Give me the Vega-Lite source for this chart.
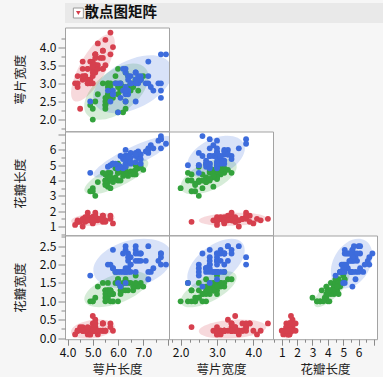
{
"$schema":"https://vega.github.io/schema/vega-lite/v6.json",
"background":"#f6f6f6",
"padding":{"left":13,"top":3,"right":0,"bottom":0},
"data":{"values":[
{"sl":5.1,"sw":3.5,"pl":1.4,"pw":0.2,"species":"setosa"},
{"sl":4.9,"sw":3.0,"pl":1.4,"pw":0.2,"species":"setosa"},
{"sl":4.7,"sw":3.2,"pl":1.3,"pw":0.2,"species":"setosa"},
{"sl":4.6,"sw":3.1,"pl":1.5,"pw":0.2,"species":"setosa"},
{"sl":5.0,"sw":3.6,"pl":1.4,"pw":0.2,"species":"setosa"},
{"sl":5.4,"sw":3.9,"pl":1.7,"pw":0.4,"species":"setosa"},
{"sl":4.6,"sw":3.4,"pl":1.4,"pw":0.3,"species":"setosa"},
{"sl":5.0,"sw":3.4,"pl":1.5,"pw":0.2,"species":"setosa"},
{"sl":4.4,"sw":2.9,"pl":1.4,"pw":0.2,"species":"setosa"},
{"sl":4.9,"sw":3.1,"pl":1.5,"pw":0.1,"species":"setosa"},
{"sl":5.4,"sw":3.7,"pl":1.5,"pw":0.2,"species":"setosa"},
{"sl":4.8,"sw":3.4,"pl":1.6,"pw":0.2,"species":"setosa"},
{"sl":4.8,"sw":3.0,"pl":1.4,"pw":0.1,"species":"setosa"},
{"sl":4.3,"sw":3.0,"pl":1.1,"pw":0.1,"species":"setosa"},
{"sl":5.8,"sw":4.0,"pl":1.2,"pw":0.2,"species":"setosa"},
{"sl":5.7,"sw":4.4,"pl":1.5,"pw":0.4,"species":"setosa"},
{"sl":5.4,"sw":3.9,"pl":1.3,"pw":0.4,"species":"setosa"},
{"sl":5.1,"sw":3.5,"pl":1.4,"pw":0.3,"species":"setosa"},
{"sl":5.7,"sw":3.8,"pl":1.7,"pw":0.3,"species":"setosa"},
{"sl":5.1,"sw":3.8,"pl":1.5,"pw":0.3,"species":"setosa"},
{"sl":5.4,"sw":3.4,"pl":1.7,"pw":0.2,"species":"setosa"},
{"sl":5.1,"sw":3.7,"pl":1.5,"pw":0.4,"species":"setosa"},
{"sl":4.6,"sw":3.6,"pl":1.0,"pw":0.2,"species":"setosa"},
{"sl":5.1,"sw":3.3,"pl":1.7,"pw":0.5,"species":"setosa"},
{"sl":4.8,"sw":3.4,"pl":1.9,"pw":0.2,"species":"setosa"},
{"sl":5.0,"sw":3.0,"pl":1.6,"pw":0.2,"species":"setosa"},
{"sl":5.0,"sw":3.4,"pl":1.6,"pw":0.4,"species":"setosa"},
{"sl":5.2,"sw":3.5,"pl":1.5,"pw":0.2,"species":"setosa"},
{"sl":5.2,"sw":3.4,"pl":1.4,"pw":0.2,"species":"setosa"},
{"sl":4.7,"sw":3.2,"pl":1.6,"pw":0.2,"species":"setosa"},
{"sl":4.8,"sw":3.1,"pl":1.6,"pw":0.2,"species":"setosa"},
{"sl":5.4,"sw":3.4,"pl":1.5,"pw":0.4,"species":"setosa"},
{"sl":5.2,"sw":4.1,"pl":1.5,"pw":0.1,"species":"setosa"},
{"sl":5.5,"sw":4.2,"pl":1.4,"pw":0.2,"species":"setosa"},
{"sl":4.9,"sw":3.1,"pl":1.5,"pw":0.2,"species":"setosa"},
{"sl":5.0,"sw":3.2,"pl":1.2,"pw":0.2,"species":"setosa"},
{"sl":5.5,"sw":3.5,"pl":1.3,"pw":0.2,"species":"setosa"},
{"sl":4.9,"sw":3.6,"pl":1.4,"pw":0.1,"species":"setosa"},
{"sl":4.4,"sw":3.0,"pl":1.3,"pw":0.2,"species":"setosa"},
{"sl":5.1,"sw":3.4,"pl":1.5,"pw":0.2,"species":"setosa"},
{"sl":5.0,"sw":3.5,"pl":1.3,"pw":0.3,"species":"setosa"},
{"sl":4.5,"sw":2.3,"pl":1.3,"pw":0.3,"species":"setosa"},
{"sl":4.4,"sw":3.2,"pl":1.3,"pw":0.2,"species":"setosa"},
{"sl":5.0,"sw":3.5,"pl":1.6,"pw":0.6,"species":"setosa"},
{"sl":5.1,"sw":3.8,"pl":1.9,"pw":0.4,"species":"setosa"},
{"sl":4.8,"sw":3.0,"pl":1.4,"pw":0.3,"species":"setosa"},
{"sl":5.1,"sw":3.8,"pl":1.6,"pw":0.2,"species":"setosa"},
{"sl":4.6,"sw":3.2,"pl":1.4,"pw":0.2,"species":"setosa"},
{"sl":5.3,"sw":3.7,"pl":1.5,"pw":0.2,"species":"setosa"},
{"sl":5.0,"sw":3.3,"pl":1.4,"pw":0.2,"species":"setosa"},
{"sl":7.0,"sw":3.2,"pl":4.7,"pw":1.4,"species":"versicolor"},
{"sl":6.4,"sw":3.2,"pl":4.5,"pw":1.5,"species":"versicolor"},
{"sl":6.9,"sw":3.1,"pl":4.9,"pw":1.5,"species":"versicolor"},
{"sl":5.5,"sw":2.3,"pl":4.0,"pw":1.3,"species":"versicolor"},
{"sl":6.5,"sw":2.8,"pl":4.6,"pw":1.5,"species":"versicolor"},
{"sl":5.7,"sw":2.8,"pl":4.5,"pw":1.3,"species":"versicolor"},
{"sl":6.3,"sw":3.3,"pl":4.7,"pw":1.6,"species":"versicolor"},
{"sl":4.9,"sw":2.4,"pl":3.3,"pw":1.0,"species":"versicolor"},
{"sl":6.6,"sw":2.9,"pl":4.6,"pw":1.3,"species":"versicolor"},
{"sl":5.2,"sw":2.7,"pl":3.9,"pw":1.4,"species":"versicolor"},
{"sl":5.0,"sw":2.0,"pl":3.5,"pw":1.0,"species":"versicolor"},
{"sl":5.9,"sw":3.0,"pl":4.2,"pw":1.5,"species":"versicolor"},
{"sl":6.0,"sw":2.2,"pl":4.0,"pw":1.0,"species":"versicolor"},
{"sl":6.1,"sw":2.9,"pl":4.7,"pw":1.4,"species":"versicolor"},
{"sl":5.6,"sw":2.9,"pl":3.6,"pw":1.3,"species":"versicolor"},
{"sl":6.7,"sw":3.1,"pl":4.4,"pw":1.4,"species":"versicolor"},
{"sl":5.6,"sw":3.0,"pl":4.5,"pw":1.5,"species":"versicolor"},
{"sl":5.8,"sw":2.7,"pl":4.1,"pw":1.0,"species":"versicolor"},
{"sl":6.2,"sw":2.2,"pl":4.5,"pw":1.5,"species":"versicolor"},
{"sl":5.6,"sw":2.5,"pl":3.9,"pw":1.1,"species":"versicolor"},
{"sl":5.9,"sw":3.2,"pl":4.8,"pw":1.8,"species":"versicolor"},
{"sl":6.1,"sw":2.8,"pl":4.0,"pw":1.3,"species":"versicolor"},
{"sl":6.3,"sw":2.5,"pl":4.9,"pw":1.5,"species":"versicolor"},
{"sl":6.1,"sw":2.8,"pl":4.7,"pw":1.2,"species":"versicolor"},
{"sl":6.4,"sw":2.9,"pl":4.3,"pw":1.3,"species":"versicolor"},
{"sl":6.6,"sw":3.0,"pl":4.4,"pw":1.4,"species":"versicolor"},
{"sl":6.8,"sw":2.8,"pl":4.8,"pw":1.4,"species":"versicolor"},
{"sl":6.7,"sw":3.0,"pl":5.0,"pw":1.7,"species":"versicolor"},
{"sl":6.0,"sw":2.9,"pl":4.5,"pw":1.5,"species":"versicolor"},
{"sl":5.7,"sw":2.6,"pl":3.5,"pw":1.0,"species":"versicolor"},
{"sl":5.5,"sw":2.4,"pl":3.8,"pw":1.1,"species":"versicolor"},
{"sl":5.5,"sw":2.4,"pl":3.7,"pw":1.0,"species":"versicolor"},
{"sl":5.8,"sw":2.7,"pl":3.9,"pw":1.2,"species":"versicolor"},
{"sl":6.0,"sw":2.7,"pl":5.1,"pw":1.6,"species":"versicolor"},
{"sl":5.4,"sw":3.0,"pl":4.5,"pw":1.5,"species":"versicolor"},
{"sl":6.0,"sw":3.4,"pl":4.5,"pw":1.6,"species":"versicolor"},
{"sl":6.7,"sw":3.1,"pl":4.7,"pw":1.5,"species":"versicolor"},
{"sl":6.3,"sw":2.3,"pl":4.4,"pw":1.3,"species":"versicolor"},
{"sl":5.6,"sw":3.0,"pl":4.1,"pw":1.3,"species":"versicolor"},
{"sl":5.5,"sw":2.5,"pl":4.0,"pw":1.3,"species":"versicolor"},
{"sl":5.5,"sw":2.6,"pl":4.4,"pw":1.2,"species":"versicolor"},
{"sl":6.1,"sw":3.0,"pl":4.6,"pw":1.4,"species":"versicolor"},
{"sl":5.8,"sw":2.6,"pl":4.0,"pw":1.2,"species":"versicolor"},
{"sl":5.0,"sw":2.3,"pl":3.3,"pw":1.0,"species":"versicolor"},
{"sl":5.6,"sw":2.7,"pl":4.2,"pw":1.3,"species":"versicolor"},
{"sl":5.7,"sw":3.0,"pl":4.2,"pw":1.2,"species":"versicolor"},
{"sl":5.7,"sw":2.9,"pl":4.2,"pw":1.3,"species":"versicolor"},
{"sl":6.2,"sw":2.9,"pl":4.3,"pw":1.3,"species":"versicolor"},
{"sl":5.1,"sw":2.5,"pl":3.0,"pw":1.1,"species":"versicolor"},
{"sl":5.7,"sw":2.8,"pl":4.1,"pw":1.3,"species":"versicolor"},
{"sl":6.3,"sw":3.3,"pl":6.0,"pw":2.5,"species":"virginica"},
{"sl":5.8,"sw":2.7,"pl":5.1,"pw":1.9,"species":"virginica"},
{"sl":7.1,"sw":3.0,"pl":5.9,"pw":2.1,"species":"virginica"},
{"sl":6.3,"sw":2.9,"pl":5.6,"pw":1.8,"species":"virginica"},
{"sl":6.5,"sw":3.0,"pl":5.8,"pw":2.2,"species":"virginica"},
{"sl":7.6,"sw":3.0,"pl":6.6,"pw":2.1,"species":"virginica"},
{"sl":4.9,"sw":2.5,"pl":4.5,"pw":1.7,"species":"virginica"},
{"sl":7.3,"sw":2.9,"pl":6.3,"pw":1.8,"species":"virginica"},
{"sl":6.7,"sw":2.5,"pl":5.8,"pw":1.8,"species":"virginica"},
{"sl":7.2,"sw":3.6,"pl":6.1,"pw":2.5,"species":"virginica"},
{"sl":6.5,"sw":3.2,"pl":5.1,"pw":2.0,"species":"virginica"},
{"sl":6.4,"sw":2.7,"pl":5.3,"pw":1.9,"species":"virginica"},
{"sl":6.8,"sw":3.0,"pl":5.5,"pw":2.1,"species":"virginica"},
{"sl":5.7,"sw":2.5,"pl":5.0,"pw":2.0,"species":"virginica"},
{"sl":5.8,"sw":2.8,"pl":5.1,"pw":2.4,"species":"virginica"},
{"sl":6.4,"sw":3.2,"pl":5.3,"pw":2.3,"species":"virginica"},
{"sl":6.5,"sw":3.0,"pl":5.5,"pw":1.8,"species":"virginica"},
{"sl":7.7,"sw":3.8,"pl":6.7,"pw":2.2,"species":"virginica"},
{"sl":7.7,"sw":2.6,"pl":6.9,"pw":2.3,"species":"virginica"},
{"sl":6.0,"sw":2.2,"pl":5.0,"pw":1.5,"species":"virginica"},
{"sl":6.9,"sw":3.2,"pl":5.7,"pw":2.3,"species":"virginica"},
{"sl":5.6,"sw":2.8,"pl":4.9,"pw":2.0,"species":"virginica"},
{"sl":7.7,"sw":2.8,"pl":6.7,"pw":2.0,"species":"virginica"},
{"sl":6.3,"sw":2.7,"pl":4.9,"pw":1.8,"species":"virginica"},
{"sl":6.7,"sw":3.3,"pl":5.7,"pw":2.1,"species":"virginica"},
{"sl":7.2,"sw":3.2,"pl":6.0,"pw":1.8,"species":"virginica"},
{"sl":6.2,"sw":2.8,"pl":4.8,"pw":1.8,"species":"virginica"},
{"sl":6.1,"sw":3.0,"pl":4.9,"pw":1.8,"species":"virginica"},
{"sl":6.4,"sw":2.8,"pl":5.6,"pw":2.1,"species":"virginica"},
{"sl":7.2,"sw":3.0,"pl":5.8,"pw":1.6,"species":"virginica"},
{"sl":7.4,"sw":2.8,"pl":6.1,"pw":1.9,"species":"virginica"},
{"sl":7.9,"sw":3.8,"pl":6.4,"pw":2.0,"species":"virginica"},
{"sl":6.4,"sw":2.8,"pl":5.6,"pw":2.2,"species":"virginica"},
{"sl":6.3,"sw":2.8,"pl":5.1,"pw":1.5,"species":"virginica"},
{"sl":6.1,"sw":2.6,"pl":5.6,"pw":1.4,"species":"virginica"},
{"sl":7.7,"sw":3.0,"pl":6.1,"pw":2.3,"species":"virginica"},
{"sl":6.3,"sw":3.4,"pl":5.6,"pw":2.4,"species":"virginica"},
{"sl":6.4,"sw":3.1,"pl":5.5,"pw":1.8,"species":"virginica"},
{"sl":6.0,"sw":3.0,"pl":4.8,"pw":1.8,"species":"virginica"},
{"sl":6.9,"sw":3.1,"pl":5.4,"pw":2.1,"species":"virginica"},
{"sl":6.7,"sw":3.1,"pl":5.6,"pw":2.4,"species":"virginica"},
{"sl":6.9,"sw":3.1,"pl":5.1,"pw":2.3,"species":"virginica"},
{"sl":5.8,"sw":2.7,"pl":5.1,"pw":1.9,"species":"virginica"},
{"sl":6.8,"sw":3.2,"pl":5.9,"pw":2.3,"species":"virginica"},
{"sl":6.7,"sw":3.3,"pl":5.7,"pw":2.5,"species":"virginica"},
{"sl":6.7,"sw":3.0,"pl":5.2,"pw":2.3,"species":"virginica"},
{"sl":6.3,"sw":2.5,"pl":5.0,"pw":1.9,"species":"virginica"},
{"sl":6.5,"sw":3.0,"pl":5.2,"pw":2.0,"species":"virginica"},
{"sl":6.2,"sw":3.4,"pl":5.4,"pw":2.3,"species":"virginica"},
{"sl":5.9,"sw":3.0,"pl":5.1,"pw":1.8,"species":"virginica"}
]},
"config":{
 "view":{"fill":"white","stroke":"#a3a3a3","strokeWidth":1},
 "axis":{"domain":false,"grid":false,"tickColor":"#8a8a8a","tickWidth":1,"labelFont":"Noto Sans CJK SC","labelFontSize":12,"labelColor":"#111111","labelPadding":2,"labelFlush":false,"labelOverlap":false,"titleFont":"Noto Sans CJK SC","titleFontSize":12.5,"titleFontWeight":"normal","titleColor":"#222222"},
 "axisY":{"minExtent":28,"maxExtent":28,"titlePadding":10},
 "axisX":{"titlePadding":5}
},
"spacing":3.5,
"resolve":{"scale":{"shape":"independent"}},
"vconcat":[
 {"spacing":0,"bounds":"flush",
  "resolve":{"scale":{"shape":"independent"}},
  "hconcat":[
   {"width":26.7,"height":20,
    "view":{"fill":"#e9e9e9","stroke":null},
    "data":{"values":[{}]},
    "layer":[
     {"mark":{"type":"point","shape":"square","filled":true,"color":"white","stroke":"#9a9a9a","strokeWidth":1,"opacity":1,"size":100},"encoding":{}},
     {"mark":{"type":"point","shape":"triangle-down","filled":true,"color":"#d43d4b","opacity":1,"size":22},"encoding":{}}
    ]
   },
   {"width":130,"height":20,
    "view":{"fill":"#e9e9e9","stroke":null},
    "data":{"values":[{"t":"散点图矩阵"}]},
    "mark":{"type":"text","align":"right","font":"Noto Sans CJK SC","fontSize":14.5,"fontWeight":"bold","color":"#111111"},
    "encoding":{"text":{"field":"t","type":"nominal"}}
   },
   {"width":215,"height":20,
    "view":{"fill":"#e9e9e9","stroke":null},
    "data":{"values":[{}]},
    "mark":{"type":"point","opacity":0},
    "encoding":{}
   }
  ]
 },
 {"columns":3,"spacing":0,"bounds":"flush",
  "resolve":{"scale":{"shape":"independent"}},
  "concat":[
   {"width":104,"height":103.7,
    "encoding":{
     "x":{"field":"sl","type":"quantitative","scale":{"domain":[3.9,8.02],"nice":false,"zero":false},"axis":null},
     "y":{"field":"sw","type":"quantitative","scale":{"domain":[1.68,4.54],"nice":false,"zero":false},"axis":{"title":"萼片宽度","values":[1.75,2,2.25,2.5,2.75,3,3.25,3.5,3.75,4,4.25],"labelExpr":"(datum.value * 2) % 1 === 0 ? format(datum.value, '.1f') : ''","tickSize":{"condition":{"test":"(datum.value * 2) % 1 === 0","value":7},"value":4}}},
     "color":{"field":"species","type":"nominal","scale":{"domain":["setosa","versicolor","virginica"],"range":["#d6404e","#33a23c","#3d6cdc"]},"legend":null}
    },
    "layer":[
     {"transform":[{"aggregate":[{"op":"mean","field":"sl","as":"sl"},{"op":"mean","field":"sw","as":"sw"}],"groupby":["species"]}],
      "mark":{"type":"point","filled":true,"opacity":0.2,"size":400,"strokeWidth":0,"clip":true},
      "encoding":{"shape":{"field":"species","type":"nominal","legend":null,"scale":{"domain":["setosa","versicolor","virginica"],"range":[
        "M 1.871 -3.308 A 3.8 1.298 -60.5 1 0 -1.871 3.308 A 3.8 1.298 -60.5 1 0 1.871 -3.308 Z",
        "M 2.951 -2.281 A 3.73 2.04 -37.7 1 0 -2.951 2.281 A 3.73 2.04 -37.7 1 0 2.951 -2.281 Z",
        "M 3.794 -1.958 A 4.27 2.36 -27.3 1 0 -3.794 1.958 A 4.27 2.36 -27.3 1 0 3.794 -1.958 Z"]}}}},
     {"mark":{"type":"point","filled":true,"opacity":1,"size":34,"strokeWidth":0}}
    ]
   },
   {"width":104,"height":103.7,"view":{"fill":null,"stroke":null},"data":{"values":[{}]},"mark":{"type":"point","opacity":0},"encoding":{}},
   {"width":104,"height":103.7,"view":{"fill":null,"stroke":null},"data":{"values":[{}]},"mark":{"type":"point","opacity":0},"encoding":{}},
   {"width":104,"height":103.7,
    "encoding":{
     "x":{"field":"sl","type":"quantitative","scale":{"domain":[3.9,8.02],"nice":false,"zero":false},"axis":null},
     "y":{"field":"pl","type":"quantitative","scale":{"domain":[0.43,7.2],"nice":false,"zero":false},"axis":{"title":"花瓣长度","values":[0.5,1,1.5,2,2.5,3,3.5,4,4.5,5,5.5,6,6.5,7],"labelExpr":"datum.value % 1 === 0 && datum.value < 7 ? format(datum.value, 'd') : ''","tickSize":{"condition":{"test":"datum.value % 1 === 0","value":7},"value":4}}},
     "color":{"field":"species","type":"nominal","scale":{"domain":["setosa","versicolor","virginica"],"range":["#d6404e","#33a23c","#3d6cdc"]},"legend":null}
    },
    "layer":[
     {"transform":[{"aggregate":[{"op":"mean","field":"sl","as":"sl"},{"op":"mean","field":"pl","as":"pl"}],"groupby":["species"]}],
      "mark":{"type":"point","filled":true,"opacity":0.2,"size":400,"strokeWidth":0,"clip":true},
      "encoding":{"shape":{"field":"species","type":"nominal","legend":null,"scale":{"domain":["setosa","versicolor","virginica"],"range":[
        "M 2.182 -0.19 A 2.19 0.627 -4.98 1 0 -2.182 0.19 A 2.19 0.627 -4.98 1 0 2.182 -0.19 Z",
        "M 3.171 -1.482 A 3.5 1.06 -25.05 1 0 -3.171 1.482 A 3.5 1.06 -25.05 1 0 3.171 -1.482 Z",
        "M 3.929 -1.891 A 4.36 0.945 -25.7 1 0 -3.929 1.891 A 4.36 0.945 -25.7 1 0 3.929 -1.891 Z"]}}}},
     {"mark":{"type":"point","filled":true,"opacity":1,"size":34,"strokeWidth":0}}
    ]
   },
   {"width":104,"height":103.7,
    "encoding":{
     "x":{"field":"sw","type":"quantitative","scale":{"domain":[1.68,4.54],"nice":false,"zero":false},"axis":null},
     "y":{"field":"pl","type":"quantitative","scale":{"domain":[0.43,7.2],"nice":false,"zero":false},"axis":null},
     "color":{"field":"species","type":"nominal","scale":{"domain":["setosa","versicolor","virginica"],"range":["#d6404e","#33a23c","#3d6cdc"]},"legend":null}
    },
    "layer":[
     {"transform":[{"aggregate":[{"op":"mean","field":"sw","as":"sw"},{"op":"mean","field":"pl","as":"pl"}],"groupby":["species"]}],
      "mark":{"type":"point","filled":true,"opacity":0.2,"size":400,"strokeWidth":0,"clip":true},
      "encoding":{"shape":{"field":"species","type":"nominal","legend":null,"scale":{"domain":["setosa","versicolor","virginica"],"range":[
        "M 3.378 -0.121 A 3.38 0.643 -2.05 1 0 -3.378 0.121 A 3.38 0.643 -2.05 1 0 3.378 -0.121 Z",
        "M 2.739 -1.271 A 3.02 1.35 -24.9 1 0 -2.739 1.271 A 3.02 1.35 -24.9 1 0 2.739 -1.271 Z",
        "M 2.764 -1.312 A 3.06 1.78 -25.4 1 0 -2.764 1.312 A 3.06 1.78 -25.4 1 0 2.764 -1.312 Z"]}}}},
     {"mark":{"type":"point","filled":true,"opacity":1,"size":34,"strokeWidth":0}}
    ]
   },
   {"width":104,"height":103.7,"view":{"fill":null,"stroke":null},"data":{"values":[{}]},"mark":{"type":"point","opacity":0},"encoding":{}},
   {"width":104,"height":103.7,
    "encoding":{
     "x":{"field":"sl","type":"quantitative","scale":{"domain":[3.9,8.02],"nice":false,"zero":false},"axis":{"title":"萼片长度","values":[4,4.5,5,5.5,6,6.5,7,7.5,8],"labelExpr":"datum.value % 1 === 0 && datum.value < 8 ? format(datum.value, '.1f') : ''","tickSize":{"condition":{"test":"datum.value % 1 === 0","value":6},"value":3}}},
     "y":{"field":"pw","type":"quantitative","scale":{"domain":[-0.03,2.79],"nice":false,"zero":false},"axis":{"title":"花瓣宽度","values":[0,0.25,0.5,0.75,1,1.25,1.5,1.75,2,2.25,2.5,2.75],"labelExpr":"(datum.value * 2) % 1 === 0 ? format(datum.value, '.1f') : ''","tickSize":{"condition":{"test":"(datum.value * 2) % 1 === 0","value":7},"value":4}}},
     "color":{"field":"species","type":"nominal","scale":{"domain":["setosa","versicolor","virginica"],"range":["#d6404e","#33a23c","#3d6cdc"]},"legend":null}
    },
    "layer":[
     {"transform":[{"aggregate":[{"op":"mean","field":"sl","as":"sl"},{"op":"mean","field":"pw","as":"pw"}],"groupby":["species"]}],
      "mark":{"type":"point","filled":true,"opacity":0.2,"size":400,"strokeWidth":0,"clip":true},
      "encoding":{"shape":{"field":"species","type":"nominal","legend":null,"scale":{"domain":["setosa","versicolor","virginica"],"range":[
        "M 2.182 -0.317 A 2.205 0.903 -8.27 1 0 -2.182 0.317 A 2.205 0.903 -8.27 1 0 2.182 -0.317 Z",
        "M 3.161 -1.198 A 3.38 1.42 -20.75 1 0 -3.161 1.198 A 3.38 1.42 -20.75 1 0 3.161 -1.198 Z",
        "M 3.901 -1.052 A 4.04 2.33 -15.1 1 0 -3.901 1.052 A 4.04 2.33 -15.1 1 0 3.901 -1.052 Z"]}}}},
     {"mark":{"type":"point","filled":true,"opacity":1,"size":34,"strokeWidth":0}}
    ]
   },
   {"width":104,"height":103.7,
    "encoding":{
     "x":{"field":"sw","type":"quantitative","scale":{"domain":[1.68,4.54],"nice":false,"zero":false},"axis":{"title":"萼片宽度","values":[1.75,2,2.25,2.5,2.75,3,3.25,3.5,3.75,4,4.25],"labelExpr":"datum.value % 1 === 0 ? format(datum.value, '.1f') : ''","tickSize":{"condition":{"test":"datum.value % 1 === 0","value":6},"value":3}}},
     "y":{"field":"pw","type":"quantitative","scale":{"domain":[-0.03,2.79],"nice":false,"zero":false},"axis":null},
     "color":{"field":"species","type":"nominal","scale":{"domain":["setosa","versicolor","virginica"],"range":["#d6404e","#33a23c","#3d6cdc"]},"legend":null}
    },
    "layer":[
     {"transform":[{"aggregate":[{"op":"mean","field":"sw","as":"sw"},{"op":"mean","field":"pw","as":"pw"}],"groupby":["species"]}],
      "mark":{"type":"point","filled":true,"opacity":0.2,"size":400,"strokeWidth":0,"clip":true},
      "encoding":{"shape":{"field":"species","type":"nominal","legend":null,"scale":{"domain":["setosa","versicolor","virginica"],"range":[
        "M 3.372 -0.239 A 3.38 0.92 -4.05 1 0 -3.372 0.239 A 3.38 0.92 -4.05 1 0 3.372 -0.239 Z",
        "M 2.738 -1.432 A 3.09 1.21 -27.6 1 0 -2.738 1.432 A 3.09 1.21 -27.6 1 0 2.738 -1.432 Z",
        "M 2.65 -2.033 A 3.34 1.795 -37.5 1 0 -2.65 2.033 A 3.34 1.795 -37.5 1 0 2.65 -2.033 Z"]}}}},
     {"mark":{"type":"point","filled":true,"opacity":1,"size":34,"strokeWidth":0}}
    ]
   },
   {"width":104,"height":103.7,
    "encoding":{
     "x":{"field":"pl","type":"quantitative","scale":{"domain":[0.43,7.2],"nice":false,"zero":false},"axis":{"title":"花瓣长度","values":[0.5,1,1.5,2,2.5,3,3.5,4,4.5,5,5.5,6,6.5,7],"labelExpr":"datum.value % 1 === 0 && datum.value < 7 ? format(datum.value, 'd') : ''","tickSize":{"condition":{"test":"datum.value % 1 === 0","value":6},"value":3}}},
     "y":{"field":"pw","type":"quantitative","scale":{"domain":[-0.03,2.79],"nice":false,"zero":false},"axis":null},
     "color":{"field":"species","type":"nominal","scale":{"domain":["setosa","versicolor","virginica"],"range":["#d6404e","#33a23c","#3d6cdc"]},"legend":null}
    },
    "layer":[
     {"transform":[{"aggregate":[{"op":"mean","field":"pl","as":"pl"},{"op":"mean","field":"pw","as":"pw"}],"groupby":["species"]}],
      "mark":{"type":"point","filled":true,"opacity":0.2,"size":400,"strokeWidth":0,"clip":true},
      "encoding":{"shape":{"field":"species","type":"nominal","legend":null,"scale":{"domain":["setosa","versicolor","virginica"],"range":[
        "M 0.347 -0.925 A 0.988 0.592 -69.45 1 0 -0.347 0.925 A 0.988 0.592 -69.45 1 0 0.347 -0.925 Z",
        "M 1.671 -1.695 A 2.38 0.82 -45.4 1 0 -1.671 1.695 A 2.38 0.82 -45.4 1 0 1.671 -1.695 Z",
        "M 1.351 -2.303 A 2.67 1.83 -59.6 1 0 -1.351 2.303 A 2.67 1.83 -59.6 1 0 1.351 -2.303 Z"]}}}},
     {"mark":{"type":"point","filled":true,"opacity":1,"size":34,"strokeWidth":0}}
    ]
   }
  ]
 }
]
}
